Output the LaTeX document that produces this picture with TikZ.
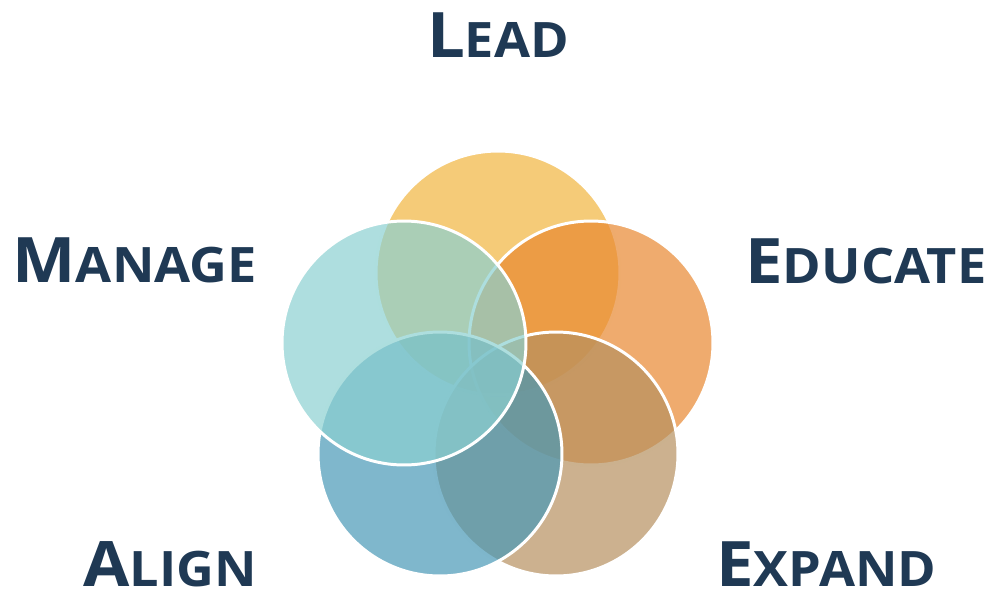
\documentclass[tikz,border=0pt]{standalone}
\usepackage{fontspec}
\usepackage{xcolor}
\usepackage{graphicx}
\usepackage{tikz}
\usetikzlibrary{positioning}
\setmainfont{Open Sans}
\definecolor{leadcol}{RGB}{241,181,62}
\definecolor{educatecol}{RGB}{232,136,48}
\definecolor{expandcol}{RGB}{182,144,95}
\definecolor{aligncol}{RGB}{72,152,182}
\definecolor{managecol}{RGB}{139,208,209}
\definecolor{navy}{RGB}{31,57,84}
\newcommand{\capword}[2]{\scalebox{1.07}[1]{{\fontsize{35.7}{40}\selectfont #1}{\fontsize{27.8}{32}\selectfont #2}}}
\tikzset{
    ring/.style={circle, minimum size=4.88cm, inner sep=0pt, draw=white, line width=1.7pt, fill opacity=0.7},
    label/.style={text=navy, font=\bfseries, inner sep=0pt}
}

\begin{document}
\begin{tikzpicture}[x=0.02cm,y=-0.02cm]
    \useasboundingbox (0,0) rectangle (987,592);
    % Draw circles
    \node[ring, fill=leadcol] (lead) at (498,273) {};
    \node[ring, fill=educatecol] (educate) at (591,343) {};
    \node[ring, fill=expandcol] (expand) at (556,454) {};
    \node[ring, fill=aligncol] (align) at (440,454) {};
    \node[ring, fill=managecol] (manage) at (404,343) {};
    % Labels
    \node[label, anchor=base] (leadtxt) at (498,57) {\capword{L}{EAD}};
    \node[label, anchor=base east] (managetxt) at (257,282) {\capword{M}{ANAGE}};
    \node[label, anchor=base west] (educatetxt) at (745,283) {\capword{E}{DUCATE}};
    \node[label, anchor=base east] (aligntxt) at (257,586) {\capword{A}{LIGN}};
    \node[label, anchor=base west] (expandtxt) at (716,586) {\capword{E}{XPAND}};
\end{tikzpicture}
\end{document}
